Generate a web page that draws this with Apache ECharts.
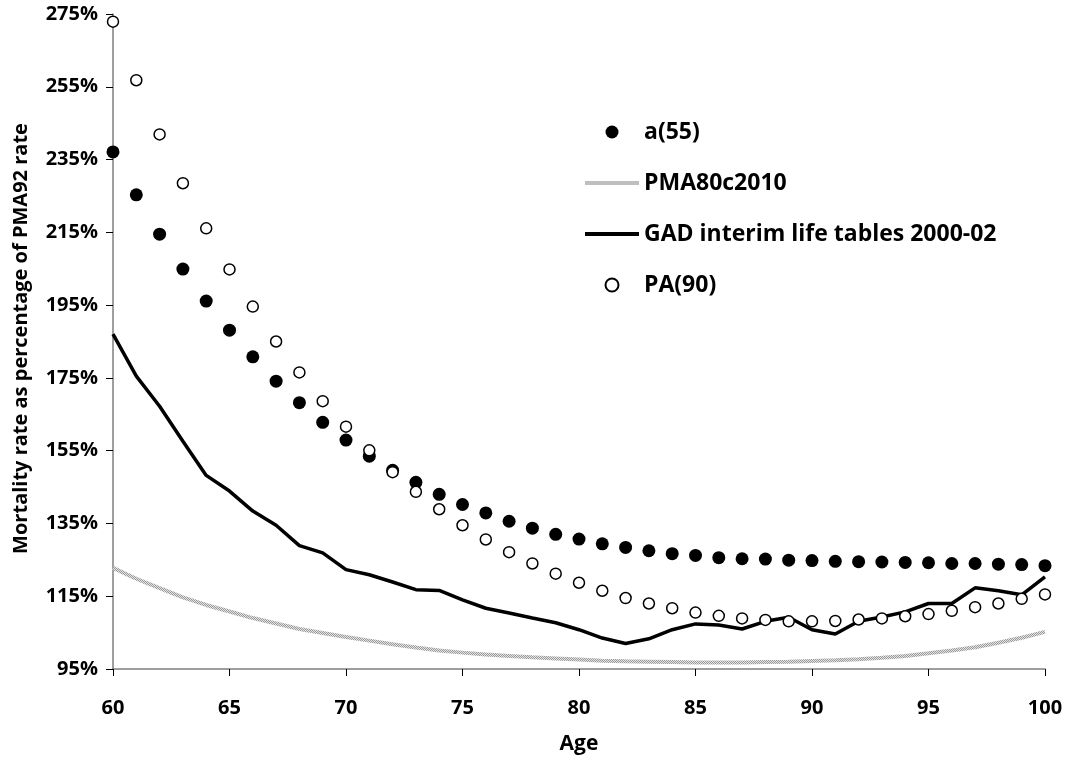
<!DOCTYPE html>
<html><head><meta charset="utf-8">
<script src="https://cdn.jsdelivr.net/npm/echarts@6/dist/echarts.min.js"></script>
<style>html,body{margin:0;padding:0;background:#fff}#c{width:1066px;height:760px}</style>
</head><body><div id="c"></div>
<script>
const ages = [60,61,62,63,64,65,66,67,68,69,70,71,72,73,74,75,76,77,78,79,80,81,82,83,84,85,86,87,88,89,90,91,92,93,94,95,96,97,98,99,100];
const a55 = [237.1,225.3,214.5,204.9,196.1,188.1,180.8,174.1,168.2,162.8,157.9,153.5,149.6,146.3,143.0,140.2,137.9,135.6,133.7,132.0,130.7,129.4,128.4,127.5,126.7,126.2,125.6,125.3,125.2,124.9,124.8,124.6,124.5,124.4,124.3,124.2,124.0,124.0,123.8,123.7,123.4];
const pma80c2010 = [122.8,119.8,117.2,114.7,112.6,110.8,109.0,107.5,106.0,104.9,103.8,102.8,101.8,100.9,100.1,99.5,99.0,98.6,98.2,97.9,97.6,97.3,97.1,97.0,96.9,96.8,96.8,96.8,96.9,97.0,97.2,97.4,97.7,98.1,98.6,99.3,100.1,101.0,102.2,103.6,105.2];
const gad = [187.0,175.5,167.2,157.6,148.2,143.9,138.4,134.5,128.9,126.9,122.3,120.9,118.9,116.8,116.6,114.0,111.7,110.4,109.0,107.7,105.8,103.5,102.0,103.3,105.8,107.4,107.1,106.0,108.1,109.2,105.8,104.6,108.1,109.3,110.7,113.0,113.0,117.3,116.5,115.4,120.3];
const pa90 = [272.9,256.8,241.9,228.5,216.1,204.8,194.6,185.0,176.5,168.6,161.6,155.1,149.1,143.7,138.9,134.5,130.6,127.1,124.0,121.2,118.7,116.5,114.5,113.0,111.7,110.5,109.6,108.9,108.5,108.1,108.1,108.2,108.6,108.9,109.5,110.1,111.0,112.0,113.0,114.3,115.5];
const yTickBase = 95, yTickStep = 20, yTickTop = 275;
const names = ['a(55)','PMA80c2010','GAD interim life tables 2000-02','PA(90)'];

function pair(arr){ return ages.map((a,i)=>[a,arr[i]]); }

// checkered grey pattern for PMA80c2010 line
const pc = document.createElement('canvas'); pc.width = 2; pc.height = 2;
const px = pc.getContext('2d');
px.fillStyle = '#e4e4e4'; px.fillRect(0,0,2,2);
px.fillStyle = '#9a9a9a'; px.fillRect(0,0,1,1); px.fillRect(1,1,1,1);
const pattern = {image:pc, repeat:'repeat'};
const barIcon = 'path://M0,0L54,0L54,4L0,4Z';

const FONT = '"Open Sans", "Lato", sans-serif';
const chart = echarts.init(document.getElementById('c'), null, {renderer:'canvas'});
chart.setOption({
  animation:false,
  backgroundColor:'#fff',
  grid:{left:113,right:21,top:14,bottom:91,containLabel:false,outerBoundsMode:'none'},
  legend:{
    data:[
      {name:names[0]},
      {name:names[1], icon:barIcon, itemStyle:{color:pattern}},
      {name:names[2], icon:barIcon, itemStyle:{color:'#000'}},
      {name:names[3]}
    ],
    orient:'vertical', left:580, top:114, itemWidth:54, itemHeight:13, itemGap:25,
    textStyle:{fontFamily:FONT,fontWeight:'bold',fontSize:23,color:'#000',lineHeight:26}
  },
  xAxis:{
    type:'value', min:60, max:100, interval:5,
    name:'Age', nameLocation:'middle', nameGap:65,
    nameTextStyle:{fontFamily:FONT,fontWeight:'bold',fontSize:21,color:'#000'},
    axisLine:{lineStyle:{color:'#7f7f7f',width:1.5}},
    axisTick:{show:true,inside:false,length:7,lineStyle:{color:'#000',width:1}},
    axisLabel:{fontFamily:FONT,fontWeight:'bold',fontSize:20,color:'#000',margin:29},
    splitLine:{show:false}
  },
  yAxis:[{
    type:'value', min:yTickBase, max:yTickTop, show:false, splitLine:{show:false}
  },{
    type:'value', min:0, max:yTickTop-yTickBase, interval:yTickStep, position:'left',
    name:'Mortality rate as percentage of PMA92 rate', nameLocation:'middle', nameGap:82,
    nameTextStyle:{fontFamily:FONT,fontWeight:'bold',fontSize:20,color:'#000',padding:[0,0,0,6]},
    axisLine:{show:true,lineStyle:{color:'#7f7f7f',width:1.5}},
    axisTick:{show:true,inside:false,length:7,lineStyle:{color:'#000',width:1}},
    axisLabel:{fontFamily:FONT,fontWeight:'bold',fontSize:20,color:'#000',margin:15,
      formatter:v=>(v+yTickBase)+'%'},
    splitLine:{show:false}
  }],
  series:[
    {name:names[1], type:'line', yAxisIndex:0, data:pair(pma80c2010), symbol:'none',
     lineStyle:{width:4,color:pattern}, itemStyle:{color:'#bdbdbd'}, z:2},
    {name:names[2], type:'line', yAxisIndex:0, data:pair(gad), symbol:'none',
     lineStyle:{width:3.5,color:'#000'}, itemStyle:{color:'#000'}, z:3},
    {name:names[0], type:'scatter', yAxisIndex:0, data:pair(a55), symbol:'circle', symbolSize:13,
     itemStyle:{color:'#000',opacity:1}, emphasis:{disabled:true}, z:4},
    {name:names[3], type:'scatter', yAxisIndex:0, data:pair(pa90), symbol:'circle', symbolSize:11,
     itemStyle:{color:'#fff',borderColor:'#000',borderWidth:1.5,opacity:1}, emphasis:{disabled:true}, z:5}
  ]
});
</script></body></html>
